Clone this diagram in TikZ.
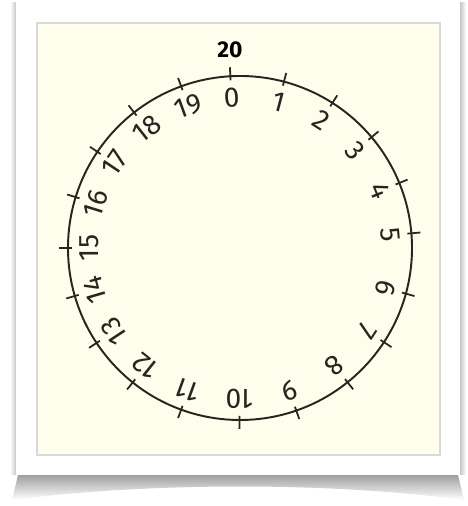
\documentclass[tikz,border=0pt]{standalone}
\usepackage{fontspec}
\usepackage{tikz}
\usetikzlibrary{shadings,calc}

\newfontfamily\handfont{Fira Sans}
\definecolor{paper}{RGB}{255,253,236}
\definecolor{ink}{RGB}{40,36,32}

\begin{document}
\begin{tikzpicture}[
  x=0.02cm,y=0.02cm,
  num/.style={font=\fontsize{16}{16}\selectfont\handfont,text=ink,inner sep=0pt},
  tick/.style={draw=ink,line width=1pt},
  ring/.style={draw=ink,line width=1.1pt}
]
\useasboundingbox (0,0) rectangle (467,506);
%% shadow of the frame
\shade[top color=gray!75,bottom color=white]
  (18,31) -- (458,31) -- (464,6) .. controls (330,24) and (150,24) .. (12,6) -- cycle;
\shade[left color=white,right color=gray!45] (10,31) rectangle (16,503);
\shade[left color=gray!45,right color=white] (460,31) rectangle (466,503);
%% frame and photo
\fill[white] (16,31) rectangle (460,503);
\draw[gray!30,fill=paper,line width=0.6pt] (37,51) rectangle (440,483);
%% dial
\coordinate (c) at (240,258);
\draw[ring] (c) circle (172);
\foreach \n/\a in {0/93.2,1/75.2,2/57.5,3/40.1,4/22.2,5/4.9,6/-15.4,7/-33.2,
                   8/-51.3,9/-70.9,10/-90.2,11/-110,12/-128.6,13/-146.5,
                   14/-163.8,15/180,16/162.8,17/146,18/128,19/110}{
  \draw[tick] ($(c)+(\a:168)$) -- ($(c)+(\a:181)$);
  \node[num,rotate=\a-90] (lbl\n) at ($(c)+(\a:151)$) {\n};
}
\node[font=\fontsize{13}{13}\selectfont\handfont\bfseries,text=black] (top) at (230,456) {20};
\end{tikzpicture}
\end{document}
